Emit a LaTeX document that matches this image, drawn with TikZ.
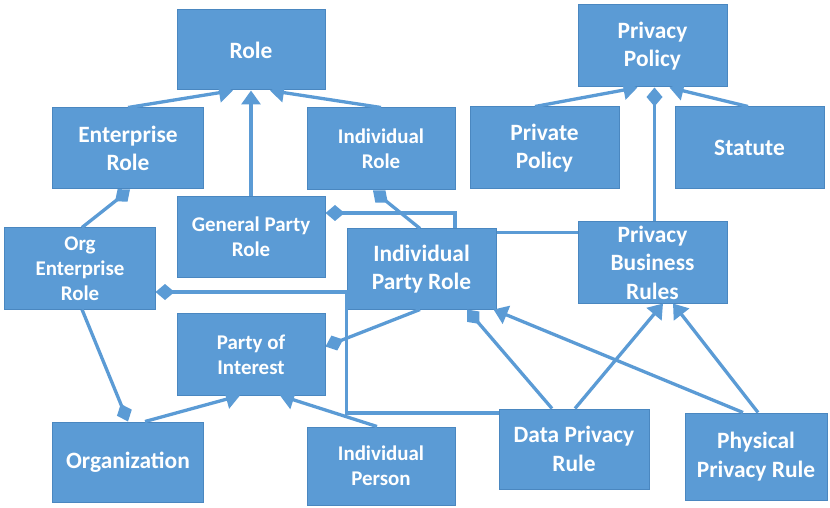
\documentclass[tikz,border=0pt]{standalone}
\usepackage{fontspec}
\setmainfont{Carlito}
\usetikzlibrary{arrows.meta}
\definecolor{boxblue}{HTML}{5B9BD5}
\definecolor{boxedge}{HTML}{4A87C0}
\definecolor{linkblue}{HTML}{5B9BD5}
\tikzset{
  box/.style={draw=boxedge, fill=boxblue, line width=1bp, text=white, align=center, inner sep=0pt},
  big/.style={font=\fontsize{23.5}{28.5}\selectfont\bfseries},
  small/.style={font=\fontsize{21}{25}\selectfont\bfseries},
  link/.style={draw=linkblue, line width=3.3bp},
  gen/.style={link, -{Triangle[length=14bp,width=19bp]}},
  agg/.style={link, -{Diamond[length=19bp,width=16bp]}},
}
\begin{document}
\begin{tikzpicture}[x=1bp,y=-1bp]
\useasboundingbox (0,0) rectangle (830,508);
% boxes
\node[box,big,minimum width=148bp,minimum height=80bp] (role) at (251,50) {Role};
\node[box,big,minimum width=150bp,minimum height=81bp] (entrole) at (128,148.5) {Enterprise\\Role};
\node[box,small,minimum width=148bp,minimum height=82bp] (indrole) at (381,149) {Individual\\Role};
\node[box,small,minimum width=148bp,minimum height=80bp] (gpr) at (251,237) {General Party\\Role};
\node[box,small,minimum width=150bp,minimum height=81bp] (oer) at (80,268.5) {Org\\Enterprise\\Role};
\node[box,small,minimum width=148bp,minimum height=81bp] (poi) at (251,354.5) {Party of\\Interest};
\node[box,big,minimum width=150bp,minimum height=80bp] (org) at (128,462) {Organization};
\node[box,small,minimum width=148bp,minimum height=78bp] (indperson) at (381,466) {Individual\\Person};
\node[box,big,minimum width=149bp,minimum height=80bp] (ipr) at (421.5,269) {Individual\\Party Role};
\node[box,big,minimum width=149bp,minimum height=81bp] (pbr) at (652.5,262.5) {Privacy\\Business\\Rules};
\node[box,big,minimum width=149bp,minimum height=82bp] (pp) at (652.5,46) {Privacy\\Policy};
\node[box,big,minimum width=149bp,minimum height=82bp] (private) at (544.5,148) {Private\\Policy};
\node[box,big,minimum width=149bp,minimum height=82bp] (statute) at (749.5,148) {Statute};
\node[box,big,minimum width=150bp,minimum height=80bp] (dpr) at (574,449) {Data Privacy\\Rule};
\node[box,big,minimum width=142bp,minimum height=87bp] (phys) at (756,456.5) {Physical\\Privacy Rule};
% connectors
\draw[gen] (entrole.north) -- ([xshift=-18bp]role.south);
\draw[gen] (indrole.north) -- ([xshift=19bp]role.south);
\draw[gen] (gpr.north) -- (role.south);
\draw[agg] ([xshift=-46bp]entrole.south |- oer.north) -- ([xshift=2bp]entrole.south);
\draw[agg] ([xshift=-1.5bp]ipr.north) -- ([xshift=-8bp]indrole.south);
\draw[agg] ([xshift=33.5bp]ipr.north) |- ([yshift=24bp]gpr.east);
\coordinate (pbrjoin) at ([yshift=-4bp]ipr.north east);
\draw[link] (pbrjoin) -- (pbrjoin -| pbr.west);
\draw[agg] ([xshift=2bp]pbr.north) -- ([xshift=2bp]pp.south);
\draw[gen] ([xshift=-9.5bp]private.north) -- ([xshift=-15bp]pp.south);
\draw[gen] ([xshift=-1.5bp]statute.north) -- ([xshift=17bp]pp.south);
\coordinate (bend) at ([yshift=-23bp]ipr.west);
\draw[agg] ([yshift=36bp]dpr.west) -| (bend) -- (bend -| oer.east);
\draw[agg] ([xshift=2bp]oer.south) -- (org.north);
\draw[gen] ([xshift=17bp]org.north) -- ([xshift=-11bp]poi.south);
\draw[gen] ([xshift=-4bp]indperson.north) -- ([xshift=29bp]poi.south);
\draw[agg] ([xshift=-1.5bp]ipr.south) -- ([yshift=8bp]poi.east);
\draw[agg] ([xshift=-22bp]dpr.north) -- ([xshift=45.5bp]ipr.south);
\draw[gen] ([xshift=-13bp]phys.north) -- ([xshift=-3bp]ipr.south east);
\draw[gen] ([xshift=1bp]dpr.north) -- ([xshift=10.5bp]pbr.south);
\draw[gen] ([xshift=2bp]phys.north) -- ([xshift=20.5bp]pbr.south);
\end{tikzpicture}
\end{document}
